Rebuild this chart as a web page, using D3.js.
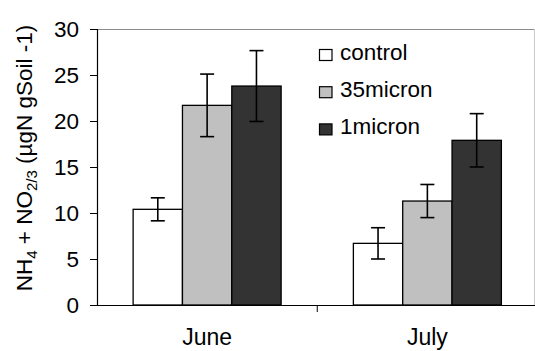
<!DOCTYPE html>
<html><head><meta charset="utf-8">
<script src="https://cdn.jsdelivr.net/npm/d3@7"></script>
<style>body{margin:0;background:#fff}svg{display:block;font-family:"Liberation Sans",Arial,sans-serif}</style>
</head><body><svg id="c" width="535" height="351"></svg>
<script>
const categories = ["June", "July"];
const seriesNames = ["control", "35micron", "1micron"];
const seriesColors = ["#ffffff", "#c0c0c0", "#333333"];
const controlValues = [10.4, 6.7];
const micron35Values = [21.7, 11.3];
const micron1Values = [23.8, 17.9];
const controlErr = [1.25, 1.7];
const micron35Err = [3.4, 1.8];
const micron1Err = [3.85, 2.9];
const yTicks = [0, 5, 10, 15, 20, 25, 30];

(function () {
const values = [controlValues, micron35Values, micron1Values];
const errs = [controlErr, micron35Err, micron1Err];
const FS = 22.5;

const svg = d3.select("#c");
const mLeft = 97, mRight = 537.5, mTop = 29, mBottom = 305;
const y = d3.scaleLinear().domain([0, 30]).range([mBottom, mTop]);
const x0 = d3.scaleBand().domain(categories).range([mLeft, mRight]);
const x1 = d3.scaleBand().domain(seriesNames).range([-74, 74]);

// plot border (top/right)
svg.append("line").attr("x1", mLeft).attr("x2", 535).attr("y1", mTop + 0.5).attr("y2", mTop + 0.5).attr("stroke", "#8c8c8c").attr("stroke-width", 1);
svg.append("line").attr("x1", 534.5).attr("x2", 534.5).attr("y1", mTop).attr("y2", mBottom).attr("stroke", "#c8c8c8").attr("stroke-width", 1);

// bars
const data = [];
categories.forEach((c, i) => seriesNames.forEach((s, j) => data.push({c, s, j, v: values[j][i], e: errs[j][i]})));
const g = svg.append("g");
g.selectAll("rect").data(data).join("rect")
  .attr("x", d => x0(d.c) + x0.bandwidth() / 2 + x1(d.s))
  .attr("width", x1.bandwidth())
  .attr("y", d => y(d.v))
  .attr("height", d => y(0) - y(d.v))
  .attr("fill", d => seriesColors[d.j])
  .attr("stroke", "#000").attr("stroke-width", 1.3);

// error bars
const eb = svg.append("g").attr("stroke", "#000").attr("stroke-width", 1.6);
data.forEach(d => {
  const cx = x0(d.c) + x0.bandwidth() / 2 + x1(d.s) + x1.bandwidth() / 2;
  eb.append("line").attr("x1", cx).attr("x2", cx).attr("y1", y(d.v + d.e)).attr("y2", y(d.v - d.e));
  [d.v + d.e, d.v - d.e].forEach(v => eb.append("line").attr("x1", cx - 7).attr("x2", cx + 7).attr("y1", y(v)).attr("y2", y(v)));
});

// y axis
const ya = svg.append("g").attr("transform", `translate(${mLeft},0)`)
  .call(d3.axisLeft(y).tickValues(yTicks).tickSize(7).tickPadding(11).tickFormat(d3.format("d")));
ya.select(".domain").attr("stroke", "#000").attr("stroke-width", 1.2);
ya.selectAll(".tick line").attr("stroke", "#000");
ya.selectAll("text").attr("font-size", FS).attr("font-family", "Liberation Sans, Arial, sans-serif").attr("fill", "#000");

// x axis
const xa = svg.append("g").attr("transform", `translate(0,${mBottom})`)
  .call(d3.axisBottom(x0).tickSize(0).tickPadding(24));
xa.select(".domain").attr("d", `M${mLeft},0.5H535`).attr("stroke", "#000").attr("stroke-width", 1.2);
xa.selectAll("text").attr("font-size", 23).attr("font-family", "Liberation Sans, Arial, sans-serif").attr("fill", "#000").attr("dy", "0.71em");
xa.append("line").attr("x1", x0("July")).attr("x2", x0("July")).attr("y1", 0).attr("y2", 7).attr("stroke", "#000");

// y title
const t = svg.append("text").attr("transform", "translate(32,158) rotate(-90)")
  .attr("text-anchor", "middle").attr("font-size", FS).attr("fill", "#000");
t.append("tspan").text("NH");
t.append("tspan").attr("font-size", 15).attr("dy", 5).text("4");
t.append("tspan").attr("dy", -5).text(" + NO");
t.append("tspan").attr("font-size", 15).attr("dy", 5).text("2/3");
t.append("tspan").attr("dy", -5).text(" (µgN gSoil -1)");

// legend
const lg = svg.append("g");
seriesNames.forEach((s, i) => {
  const yy = 49.5 + i * 37.2;
  lg.append("rect").attr("x", 319.5).attr("y", yy).attr("width", 12.5).attr("height", 11)
    .attr("fill", seriesColors[i]).attr("stroke", "#000").attr("stroke-width", 1.2);
  lg.append("text").attr("x", 340).attr("y", yy + 10.5).attr("font-size", FS).attr("fill", "#000").text(s);
});
})();
</script></body></html>
